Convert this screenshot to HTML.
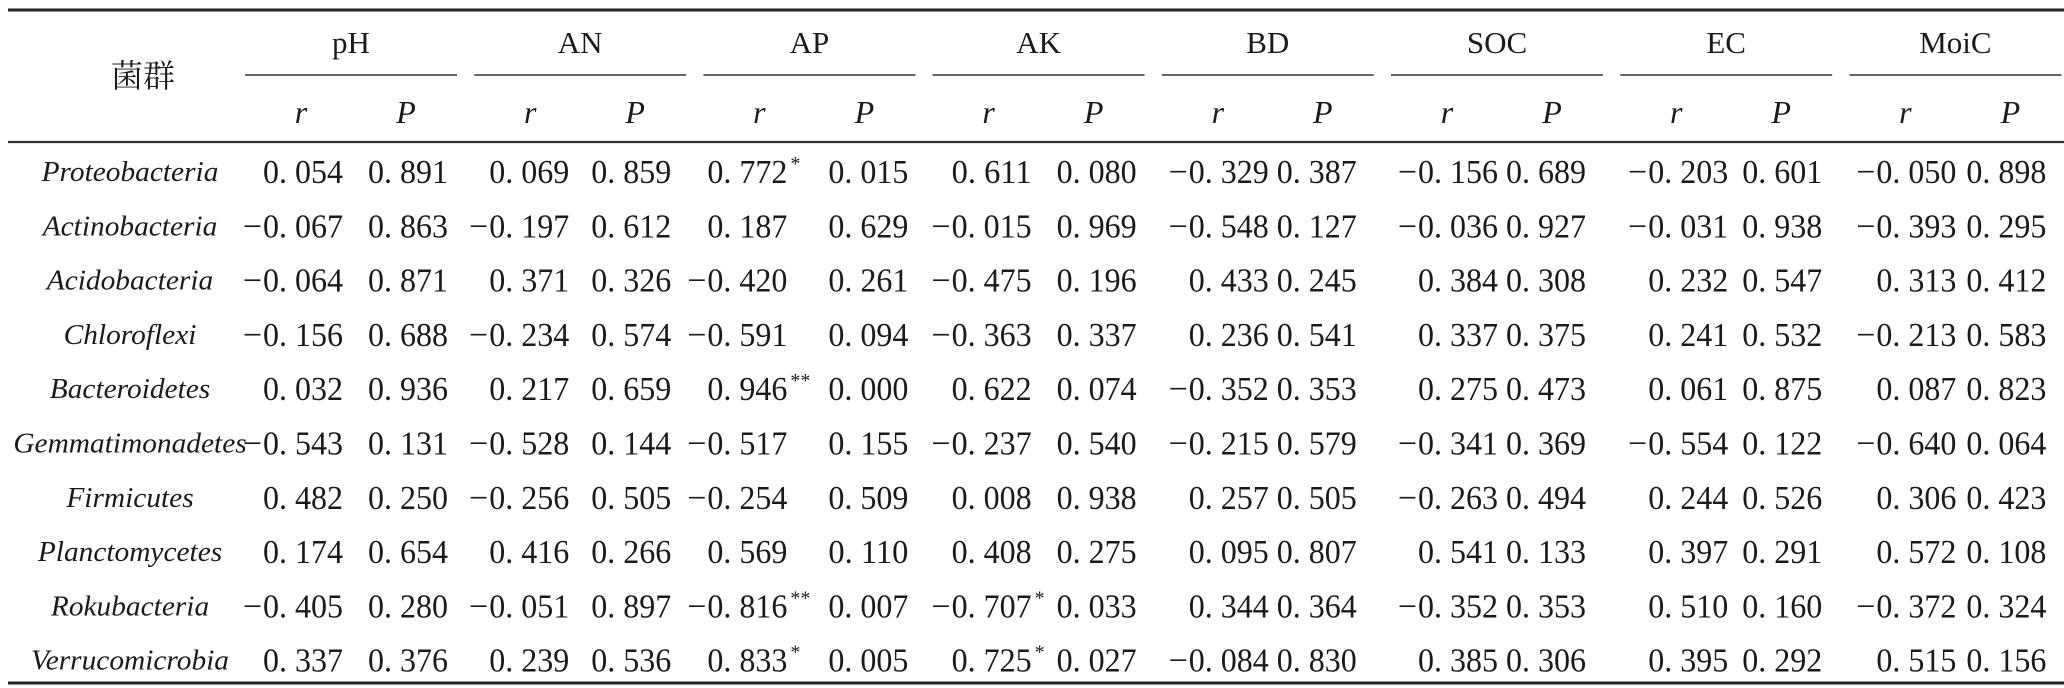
<!DOCTYPE html>
<html><head><meta charset="utf-8"><style>
html,body{margin:0;padding:0;background:#fff;}
svg{display:block;}
text{font-family:"Liberation Serif","Noto Serif CJK SC",serif;fill:#1a1a1a;}
</style></head><body>
<svg id="tbl" width="2064" height="688" viewBox="0 0 2064 688" xmlns="http://www.w3.org/2000/svg">
<line x1="8" y1="10" x2="2064" y2="10" stroke="#222" stroke-width="3"/>
<line x1="8" y1="142" x2="2064" y2="142" stroke="#333" stroke-width="2.2"/>
<line x1="8" y1="683" x2="2064" y2="683" stroke="#222" stroke-width="3"/>
<text x="143" y="87" font-size="32" text-anchor="middle" style="font-family:'Noto Serif CJK SC','Noto Sans CJK SC',serif">菌群</text>
</svg>
<script>
const factors = ["pH","AN","AP","AK","BD","SOC","EC","MoiC"];
const groups = ["Proteobacteria","Actinobacteria","Acidobacteria","Chloroflexi","Bacteroidetes","Gemmatimonadetes","Firmicutes","Planctomycetes","Rokubacteria","Verrucomicrobia"];
const rVals = [
["0.054","0.069","0.772*","0.611","-0.329","-0.156","-0.203","-0.050"],
["-0.067","-0.197","0.187","-0.015","-0.548","-0.036","-0.031","-0.393"],
["-0.064","0.371","-0.420","-0.475","0.433","0.384","0.232","0.313"],
["-0.156","-0.234","-0.591","-0.363","0.236","0.337","0.241","-0.213"],
["0.032","0.217","0.946**","0.622","-0.352","0.275","0.061","0.087"],
["-0.543","-0.528","-0.517","-0.237","-0.215","-0.341","-0.554","-0.640"],
["0.482","-0.256","-0.254","0.008","0.257","-0.263","0.244","0.306"],
["0.174","0.416","0.569","0.408","0.095","0.541","0.397","0.572"],
["-0.405","-0.051","-0.816**","-0.707*","0.344","-0.352","0.510","-0.372"],
["0.337","0.239","0.833*","0.725*","-0.084","0.385","0.395","0.515"]];
const pVals = [
["0.891","0.859","0.015","0.080","0.387","0.689","0.601","0.898"],
["0.863","0.612","0.629","0.969","0.127","0.927","0.938","0.295"],
["0.871","0.326","0.261","0.196","0.245","0.308","0.547","0.412"],
["0.688","0.574","0.094","0.337","0.541","0.375","0.532","0.583"],
["0.936","0.659","0.000","0.074","0.353","0.473","0.875","0.823"],
["0.131","0.144","0.155","0.540","0.579","0.369","0.122","0.064"],
["0.250","0.505","0.509","0.938","0.505","0.494","0.526","0.423"],
["0.654","0.266","0.110","0.275","0.807","0.133","0.291","0.108"],
["0.280","0.897","0.007","0.033","0.364","0.353","0.160","0.324"],
["0.376","0.536","0.005","0.027","0.830","0.306","0.292","0.156"]];

const NS="http://www.w3.org/2000/svg";
const svg=document.getElementById('tbl');
const gx=i=>245+229.2*i;
const rowY=j=>183+54.3*j;
const rOff=[18,15,4,19,27,27,28,27];
const pOff=[123,117,125,124,115,115,122,117];
function mk(tag,attrs,txt){const e=document.createElementNS(NS,tag);for(const k in attrs)e.setAttribute(k,attrs[k]);if(txt!=null)e.textContent=txt;svg.appendChild(e);return e;}
function fmt(s){return s.replace('.', '. ');}

factors.forEach((f,i)=>{
  const x=gx(i);
  const lab=mk('text',{x:x+106,y:53,'font-size':31,'text-anchor':'middle'},f);
  
  
  const ln=mk('line',{x1:x,y1:75,x2:x+212,y2:75,stroke:'#333','stroke-width':1.6});
  
  
  const rl=mk('text',{x:x+56,y:123,'font-size':32,'font-style':'italic','text-anchor':'middle'},'r');
  
  
  const pl=mk('text',{x:x+161,y:123,'font-size':32,'font-style':'italic','text-anchor':'middle'},'P');
  
  
});

groups.forEach((g,j)=>{
  const y=rowY(j);
  const t=mk('text',{x:0,y:0,'font-size':28,'font-style':'italic','text-anchor':'middle',transform:`translate(130,${y-2}) scale(1.05,1)`},g);
  
  
  factors.forEach((f,i)=>{
    const x=gx(i);
    let r=rVals[j][i];
    const neg=r.startsWith('-');
    const stars=(r.match(/\*+$/)||[''])[0];
    const num=r.replace('-','').replace(/\*+$/,'');
    const d=x+rOff[i];
    if(neg){
      const m=mk('text',{x:d-1,y:y,'font-size':34,'text-anchor':'end'},'−');
      
      
    }
    const rt=mk('text',{x:d,y:y,'font-size':34,textLength:80,lengthAdjust:'spacingAndGlyphs'},fmt(num));
    
    
    if(stars){
      const st=mk('text',{x:d+83,y:y-13,'font-size':20},stars);
      
      
    }
    const pt=mk('text',{x:x+pOff[i],y:y,'font-size':34,textLength:80,lengthAdjust:'spacingAndGlyphs'},fmt(pVals[j][i]));
    
    
  });
});
</script>
</body></html>
